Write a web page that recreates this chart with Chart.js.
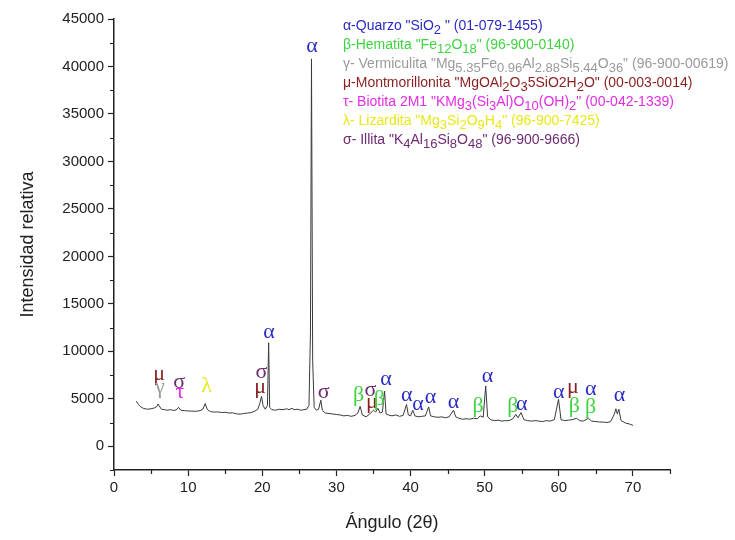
<!DOCTYPE html>
<html>
<head>
<meta charset="utf-8">
<script src="https://cdn.jsdelivr.net/npm/chart.js@4.4.1/dist/chart.umd.min.js"></script>
<style>
  html, body { margin: 0; background: #fff; }
</style>
</head>
<body>
<canvas id="xrd" width="735" height="540"></canvas>
<script>
// diffractogram
const angle = [
  3.0, 3.3, 3.6, 4.0, 4.5, 5.0, 5.5, 5.8, 5.95, 6.1, 6.4, 6.8, 7.2, 7.6, 8.0, 8.4, 8.7, 9.0, 9.5, 10.0,
  10.5, 11.0, 11.6, 12.0, 12.3, 12.6, 13.0, 13.5, 14.0, 14.5, 15.0, 15.5, 16.0, 16.5, 17.0, 17.5, 18.0, 18.5, 19.0, 19.4,
  19.7, 19.9, 20.1, 20.4, 20.7, 20.86, 21.0, 21.3, 21.8, 22.3, 22.8, 23.3, 23.6, 24.0, 24.3, 24.8, 25.2, 25.6, 26.0, 26.3,
  26.5, 26.64, 26.8, 27.0, 27.3, 27.6, 27.9, 28.1, 28.5, 29.0, 29.5, 30.0, 30.5, 31.0, 31.5, 32.0, 32.5, 32.9, 33.2, 33.5,
  34.0, 34.5, 35.0, 35.3, 35.6, 35.9, 36.2, 36.5, 36.7, 37.0, 37.5, 38.0, 38.5, 39.0, 39.46, 39.7, 40.0, 40.3, 40.6, 41.0,
  41.5, 42.0, 42.45, 42.7, 43.2, 43.7, 44.2, 44.7, 45.2, 45.8, 46.1, 46.5, 47.0, 47.5, 48.0, 48.5, 49.0, 49.4, 49.8, 50.14,
  50.4, 50.8, 51.3, 51.8, 52.3, 52.8, 53.3, 53.8, 54.2, 54.5, 54.9, 55.3, 55.8, 56.3, 56.8, 57.3, 57.8, 58.3, 58.8, 59.4,
  59.96, 60.3, 60.8, 61.3, 61.8, 62.4, 62.8, 63.3, 64.0, 64.4, 65.0, 65.5, 66.0, 66.5, 67.0, 67.5, 67.7, 67.9, 68.1, 68.4,
  69.0, 69.5, 70.0
];
const intensity = [
  4750, 4400, 4150, 3980, 3900, 3950, 4050, 4200, 4450, 4250, 3900, 3850, 3800, 3850, 3780, 3820, 4100, 3800, 3750, 3720,
  3700, 3680, 3750, 3900, 4500, 3850, 3650, 3600, 3620, 3550, 3580, 3500, 3520, 3420, 3380, 3450, 3500, 3550, 3700, 3900,
  4600, 5250, 4300, 3900, 4300, 10900, 4100, 3850, 3800, 3900, 3850, 3950, 3850, 4000, 3850, 3900, 3800, 3850, 3900, 4300,
  12000, 40800, 9000, 4100, 3800, 3900, 4850, 3800, 3500, 3450, 3400, 3350, 3300, 3200, 3250, 3150, 3250, 3500, 4200, 3300,
  3100, 3400, 3800, 3600, 4000, 3500, 3600, 5800, 3400, 3300, 3200, 3300, 3150, 3250, 4400, 3300, 3200, 3800, 3200, 3100,
  3150, 3200, 4150, 3200, 3100, 3050, 3100, 3000, 3100, 3800, 3100, 2950, 2850, 2900, 2850, 2950, 2900, 3200, 3050, 6350,
  3100, 2800, 2700, 2750, 2650, 2700, 2700, 2900, 3350, 3000, 3550, 2800, 2700, 2650, 2700, 2650, 2600, 2700, 2650, 2800,
  4950, 2800, 2700, 2750, 2800, 2950, 2700, 2650, 2950, 2650, 2600, 2550, 2550, 2500, 2600, 3400, 3950, 3400, 3900, 2700,
  2450, 2350, 2200
];

const xTicks = [0, 10, 20, 30, 40, 50, 60, 70];
const yTicks = [0, 5000, 10000, 15000, 20000, 25000, 30000, 35000, 40000, 45000];

// phase symbols above the peaks (angle, intensity where the symbol sits)
const markAngle = [6.1, 6.2, 8.8, 8.9, 12.5, 19.9, 19.7, 20.9, 26.7, 28.3, 33.0, 34.6, 34.8, 35.8, 36.7,
  39.5, 41.0, 42.7, 45.8, 49.1, 50.4, 53.8, 55.0, 60.0, 61.9, 62.1, 64.3, 64.3, 68.2];
const markHeight = [7580, 6210, 6740, 5680, 6320, 7790, 6210, 12000, 42100, 5680, 5370, 5900, 4630, 4950, 7050,
  5370, 4420, 5160, 4630, 4210, 7370, 4210, 4420, 5680, 6210, 4210, 6000, 4100, 5370];
const markPhase = ['μ', 'γ', 'σ', 'τ', 'λ', 'σ', 'μ', 'α', 'α', 'σ', 'β', 'σ', 'μ', 'β', 'α',
  'α', 'α', 'α', 'α', 'β', 'α', 'β', 'α', 'α', 'μ', 'β', 'α', 'β', 'α'];

const legendPhase = ['α', 'β', 'γ', 'μ', 'τ', 'λ', 'σ'];
const legendText = [
  'α-Quarzo "SiO_{2} " (01-079-1455)',
  'β-Hematita "Fe_{12}O_{18}" (96-900-0140)',
  'γ- Vermiculita "Mg_{5.35}Fe_{0.96}Al_{2.88}Si_{5.44}O_{36}" (96-900-00619)',
  'μ-Montmorillonita "MgOAl_{2}O_{3}5SiO2H_{2}O" (00-003-0014)',
  'τ- Biotita 2M1 "KMg_{3}(Si_{3}Al)O_{10}(OH)_{2}" (00-042-1339)',
  'λ- Lizardita "Mg_{3}Si_{2}O_{9}H_{4}" (96-900-7425)',
  'σ- Illita "K_{4}Al_{16}Si_{8}O_{48}" (96-900-9666)'
];

const phaseColor = {
  'α': '#2a2ac4',
  'β': '#3fd43f',
  'γ': '#9a9a9a',
  'μ': '#8a1f1f',
  'τ': '#e22ee2',
  'λ': '#e8e81a',
  'σ': '#6e2a72'
};

const sans = '"Liberation Sans", Arial, sans-serif';

const peakMarks = {
  id: 'peakMarks',
  afterDatasetsDraw(chart) {
    const { ctx, scales: { x, y } } = chart;
    ctx.save();
    ctx.font = '22px "Liberation Serif", "DejaVu Serif", serif';
    ctx.textAlign = 'center';
    ctx.textBaseline = 'middle';
    markPhase.forEach((p, i) => {
      ctx.fillStyle = phaseColor[p];
      ctx.fillText(p, x.getPixelForValue(markAngle[i]), y.getPixelForValue(markHeight[i]));
    });
    ctx.restore();
  }
};

// minor ticks halfway between the labelled ones
const minorTicks = {
  id: 'minorTicks',
  afterDraw(chart) {
    const { ctx, scales: { x, y } } = chart;
    ctx.save();
    ctx.strokeStyle = '#222';
    ctx.lineWidth = 1.2;
    ctx.beginPath();
    for (let v = 5; v <= 75; v += 10) {
      const px = Math.round(x.getPixelForValue(v)) + 0.5;
      ctx.moveTo(px, y.bottom);
      ctx.lineTo(px, y.bottom + 4);
    }
    for (let v = -2500; v <= 42500; v += 5000) {
      const py = Math.round(y.getPixelForValue(v)) + 0.5;
      ctx.moveTo(x.left, py);
      ctx.lineTo(x.left - 4, py);
    }
    ctx.stroke();
    ctx.restore();
  }
};

function drawRich(ctx, str, x, y) {
  const parts = str.split(/(_\{[^}]*\})/);
  for (const part of parts) {
    if (!part) continue;
    if (part.startsWith('_{')) {
      const t = part.slice(2, -1);
      ctx.font = '13px ' + sans;
      ctx.fillText(t, x, y + 4);
      x += ctx.measureText(t).width;
    } else {
      ctx.font = '14px ' + sans;
      ctx.fillText(part, x, y);
      x += ctx.measureText(part).width;
    }
  }
}

const phaseLegend = {
  id: 'phaseLegend',
  afterDraw(chart) {
    const ctx = chart.ctx;
    ctx.save();
    ctx.textBaseline = 'middle';
    ctx.textAlign = 'left';
    legendText.forEach((t, i) => {
      ctx.fillStyle = phaseColor[legendPhase[i]];
      drawRich(ctx, t, 343, 26 + i * 19);
    });
    ctx.restore();
  }
};

new Chart(document.getElementById('xrd'), {
  type: 'line',
  data: {
    datasets: [{
      data: angle.map((a, i) => ({ x: a, y: intensity[i] })),
      borderColor: '#3a3a3a',
      borderWidth: 1,
      pointRadius: 0,
      tension: 0
    }]
  },
  options: {
    responsive: false,
    animation: false,
    layout: { padding: { top: 19, right: 65, left: 0, bottom: 0 } },
    plugins: { legend: { display: false }, tooltip: { enabled: false } },
    scales: {
      x: {
        type: 'linear',
        min: 0,
        max: 75,
        afterBuildTicks(s) { s.ticks = xTicks.map(v => ({ value: v })); },
        afterFit(s) { s.height = 70; },
        grid: { drawOnChartArea: false, tickLength: 6, tickColor: '#222', tickWidth: 1.2 },
        border: { color: '#222', width: 1.5 },
        ticks: { color: '#222', font: { family: sans, size: 15 }, padding: 3, maxRotation: 0 },
        title: { display: true, text: 'Ángulo (2θ)', color: '#222', font: { family: sans, size: 18 }, padding: { top: 4, bottom: 6 } }
      },
      y: {
        min: -2500,
        max: 45000,
        afterBuildTicks(s) { s.ticks = yTicks.map(v => ({ value: v })); },
        afterFit(s) { s.width = 114; },
        grid: { drawOnChartArea: false, tickLength: 6, tickColor: '#222', tickWidth: 1.2 },
        border: { color: '#222', width: 1.5 },
        ticks: { color: '#222', font: { family: sans, size: 15 }, padding: 4, callback: v => String(v) },
        title: { display: true, text: 'Intensidad relativa', color: '#222', font: { family: sans, size: 18 }, padding: { top: 17, bottom: 0 } }
      }
    }
  },
  plugins: [peakMarks, minorTicks, phaseLegend]
});
</script>
</body>
</html>
